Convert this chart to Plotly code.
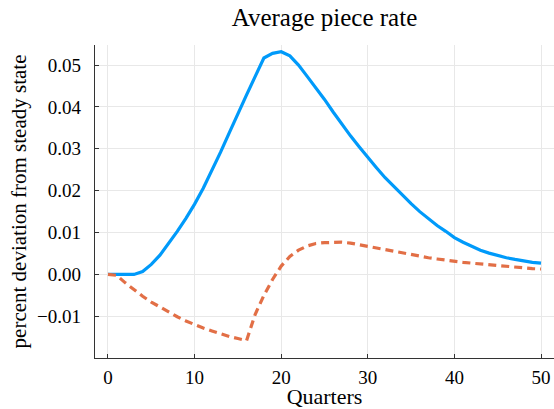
import plotly.graph_objects as go

quarters = list(range(0, 51))
blue = [0, 0, 0, 0, 0.0007, 0.0024, 0.0046, 0.0074, 0.0103, 0.0134,
        0.0168, 0.0206, 0.0247, 0.0292, 0.0338, 0.0385, 0.0429, 0.0473, 0.0517, 0.0528,
        0.0532, 0.0522, 0.0500, 0.0473, 0.0447, 0.0418, 0.0388, 0.0359, 0.0331, 0.0305,
        0.0279, 0.0255, 0.0231, 0.0210, 0.0190, 0.0169, 0.0150, 0.0133, 0.0117, 0.0103,
        0.0088, 0.0077, 0.0067, 0.0058, 0.0051, 0.0045, 0.0040, 0.0036, 0.0032, 0.0029,
        0.0027]
orange = [0, -0.0002, -0.0020, -0.0037, -0.0052, -0.0066, -0.0078, -0.0090, -0.0101, -0.0111,
          -0.0120, -0.0128, -0.0135, -0.0142, -0.0148, -0.0153, -0.0158, -0.0095, -0.0050, -0.0012,
          0.0020, 0.0043, 0.0058, 0.0068, 0.0074, 0.0076, 0.0077, 0.0077, 0.0075, 0.0071,
          0.0067, 0.0063, 0.0059, 0.0055, 0.0051, 0.0047, 0.0043, 0.0040, 0.0037, 0.0034,
          0.0031, 0.0029, 0.0027, 0.0025, 0.0023, 0.0021, 0.0019, 0.0017, 0.0016, 0.0014,
          0.0013]
x_ticks = [0, 10, 20, 30, 40, 50]
y_ticks = [-0.01, 0.0, 0.01, 0.02, 0.03, 0.04, 0.05]
y_ticktext = ["\u22120.01", "0.00", "0.01", "0.02", "0.03", "0.04", "0.05"]

FONT = "Liberation Serif, Times New Roman, serif"

fig = go.Figure()
fig.add_trace(go.Scatter(x=quarters, y=blue, mode="lines",
                         line=dict(color="#009AFA", width=3.2), showlegend=False))
fig.add_trace(go.Scatter(x=quarters, y=orange, mode="lines",
                         line=dict(color="#E26F46", width=3.2, dash="8px,5px"), showlegend=False))

fig.update_layout(
    width=554, height=409,
    margin=dict(l=95, r=0, t=45, b=51),
    paper_bgcolor="white", plot_bgcolor="white",
    font=dict(family=FONT, color="black", size=17),
    title=dict(text="Average piece rate", x=0.5, xref="paper", xanchor="center",
               y=1 - 17 / 409, yanchor="middle",
               font=dict(family=FONT, size=25, color="black")),
)
fig.update_xaxes(
    range=[-1.5, 51.5], tickvals=x_ticks, ticks="inside", ticklen=4, tickcolor="#333",
    showline=True, linecolor="#333", linewidth=1.3, showgrid=True, gridcolor="#e8e8e8",
    gridwidth=1, zeroline=False, tickfont=dict(family=FONT, size=19, color="black"),
    ticklabelstandoff=2,
    title=dict(text="Quarters", font=dict(family=FONT, size=22, color="black"), standoff=0),
)
fig.update_yaxes(
    range=[-0.01995, 0.0548], tickvals=y_ticks, ticktext=y_ticktext, ticks="inside",
    ticklen=4, tickcolor="#333",
    showline=True, linecolor="#333", linewidth=1.3, showgrid=True, gridcolor="#e8e8e8",
    gridwidth=1, zeroline=False, tickfont=dict(family=FONT, size=19, color="black"),
    ticklabelstandoff=9,
    title=dict(text="percent deviation from steady state",
               font=dict(family=FONT, size=21, color="black"), standoff=4),
)

fig.write_html("out.html")
